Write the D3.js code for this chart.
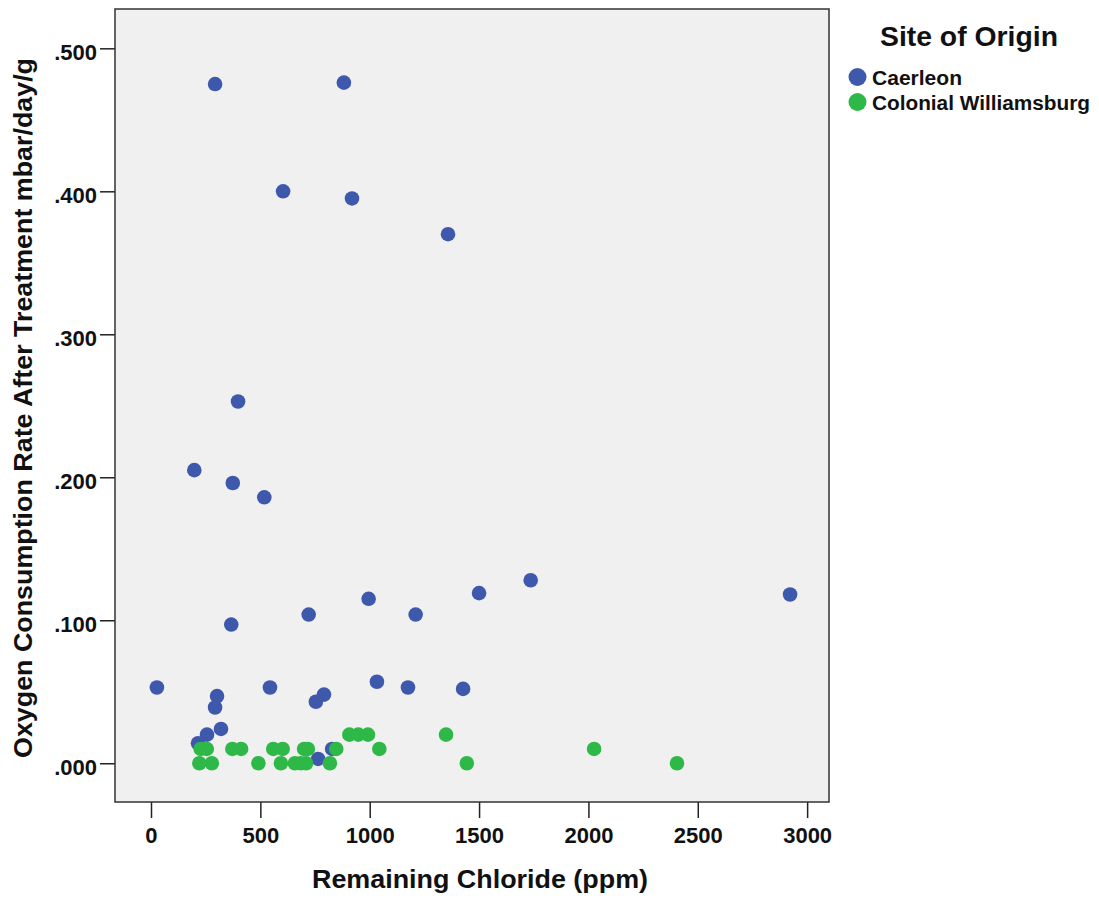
<!DOCTYPE html>
<html>
<head>
<meta charset="utf-8">
<script src="https://cdn.jsdelivr.net/npm/d3@7"></script>
<style>
  html, body { margin: 0; padding: 0; background: #ffffff; }
  svg { display: block; font-family: "Liberation Sans", Arial, sans-serif; }
</style>
</head>
<body>
<svg id="chart" width="1099" height="898"></svg>
<script>
// Remaining chloride (ppm) vs oxygen consumption after treatment, by site
const sites = ["Caerleon", "Colonial Williamsburg"];
const siteColors = ["#3E58AC", "#2EB848"];

const caerleonChloride = [293, 882, 604, 919, 1358, 398, 198, 374, 518, 1736,
  721, 995, 1210, 1500, 2922, 367, 27, 544, 791, 754,
  1033, 1175, 1427, 302, 293, 320, 256, 215, 764, 828];
const caerleonOxygen = [0.475, 0.476, 0.400, 0.395, 0.370, 0.253, 0.205, 0.196, 0.186, 0.128,
  0.104, 0.115, 0.104, 0.119, 0.118, 0.097, 0.053, 0.053, 0.048, 0.043,
  0.057, 0.053, 0.052, 0.047, 0.039, 0.024, 0.020, 0.014, 0.003, 0.010];

const williamsburgChloride = [907, 948, 992, 1349,
  227, 255, 372, 412, 559, 602, 700, 717, 847, 1044, 2026,
  221, 278, 491, 594, 658, 685, 709, 818, 1444, 2405];
const williamsburgOxygen = [0.02, 0.02, 0.02, 0.02,
  0.01, 0.01, 0.01, 0.01, 0.01, 0.01, 0.01, 0.01, 0.01, 0.01, 0.01,
  0, 0, 0, 0, 0, 0, 0, 0, 0, 0];

const xTicks = [0, 500, 1000, 1500, 2000, 2500, 3000];
const yTicks = [0, 0.1, 0.2, 0.3, 0.4, 0.5];

const xTitle = "Remaining Chloride (ppm)";
const yTitle = "Oxygen Consumption Rate After Treatment mbar/day/g";
const legendTitle = "Site of Origin";

const seriesList = [
  { site: sites[0], color: siteColors[0], xs: caerleonChloride, ys: caerleonOxygen },
  { site: sites[1], color: siteColors[1], xs: williamsburgChloride, ys: williamsburgOxygen }
];

const plot = { left: 115, top: 9, right: 829, bottom: 802 };

const svg = d3.select("#chart");

const x = d3.scaleLinear().domain([-164.6, 3100]).range([plot.left, plot.right]);
const y = d3.scaleLinear().domain([-0.0271, 0.5275]).range([plot.bottom, plot.top]);

// plot background
svg.append("rect")
  .attr("x", plot.left).attr("y", plot.top)
  .attr("width", plot.right - plot.left).attr("height", plot.bottom - plot.top)
  .attr("fill", "#F0F0F0");

// axes
const xAxis = svg.append("g")
  .attr("transform", `translate(0,${plot.bottom})`)
  .call(d3.axisBottom(x).tickValues(xTicks).tickSize(16).tickPadding(9).tickFormat(d3.format("d")));
const yAxis = svg.append("g")
  .attr("transform", `translate(${plot.left},0)`)
  .call(d3.axisLeft(y).tickValues(yTicks).tickSize(15).tickPadding(3)
    .tickFormat(d => d3.format(".3f")(d).replace(/^0/, "")));

[xAxis, yAxis].forEach(g => {
  g.select(".domain").remove();
  g.selectAll(".tick line").attr("stroke", "#222").attr("stroke-width", 1.5);
  g.selectAll(".tick text")
    .attr("fill", "#111")
    .style("font-size", "22px")
    .style("font-weight", "bold")
    .style("font-family", "'Liberation Sans', Arial, sans-serif");
});
yAxis.selectAll(".tick text").attr("dy", "0.5em");

// points
seriesList.forEach(s => {
  svg.append("g").selectAll("circle")
    .data(s.xs.map((v, i) => [v, s.ys[i]]))
    .join("circle")
    .attr("cx", d => x(d[0]))
    .attr("cy", d => y(d[1]))
    .attr("r", 7.3)
    .attr("fill", s.color);
});

// frame
svg.append("rect")
  .attr("x", plot.left).attr("y", plot.top)
  .attr("width", plot.right - plot.left).attr("height", plot.bottom - plot.top)
  .attr("fill", "none").attr("stroke", "#333").attr("stroke-width", 1.5);

// axis titles
svg.append("text")
  .attr("x", 480).attr("y", 888)
  .attr("text-anchor", "middle")
  .attr("textLength", 336).attr("lengthAdjust", "spacingAndGlyphs")
  .style("font-size", "26px").style("font-weight", "bold").attr("fill", "#111")
  .text(xTitle);

svg.append("text")
  .attr("transform", "translate(32,408) rotate(-90)")
  .attr("text-anchor", "middle")
  .attr("textLength", 700).attr("lengthAdjust", "spacingAndGlyphs")
  .style("font-size", "26px").style("font-weight", "bold").attr("fill", "#111")
  .text(yTitle);

// legend
svg.append("text")
  .attr("x", 969).attr("y", 46)
  .attr("text-anchor", "middle")
  .attr("textLength", 178).attr("lengthAdjust", "spacingAndGlyphs")
  .style("font-size", "27px").style("font-weight", "bold").attr("fill", "#111")
  .text(legendTitle);

const legendRows = svg.append("g").selectAll("g")
  .data(seriesList)
  .join("g")
  .attr("transform", (d, i) => `translate(0,${77 + i * 25})`);
legendRows.append("circle")
  .attr("cx", 857.5).attr("cy", 0).attr("r", 9)
  .attr("fill", d => d.color);
legendRows.append("text")
  .attr("x", 872).attr("y", 8)
  .attr("textLength", d => d.site === "Caerleon" ? 90 : 218)
  .attr("lengthAdjust", "spacingAndGlyphs")
  .style("font-size", "20px").style("font-weight", "bold").attr("fill", "#111")
  .text(d => d.site);
</script>
</body>
</html>
